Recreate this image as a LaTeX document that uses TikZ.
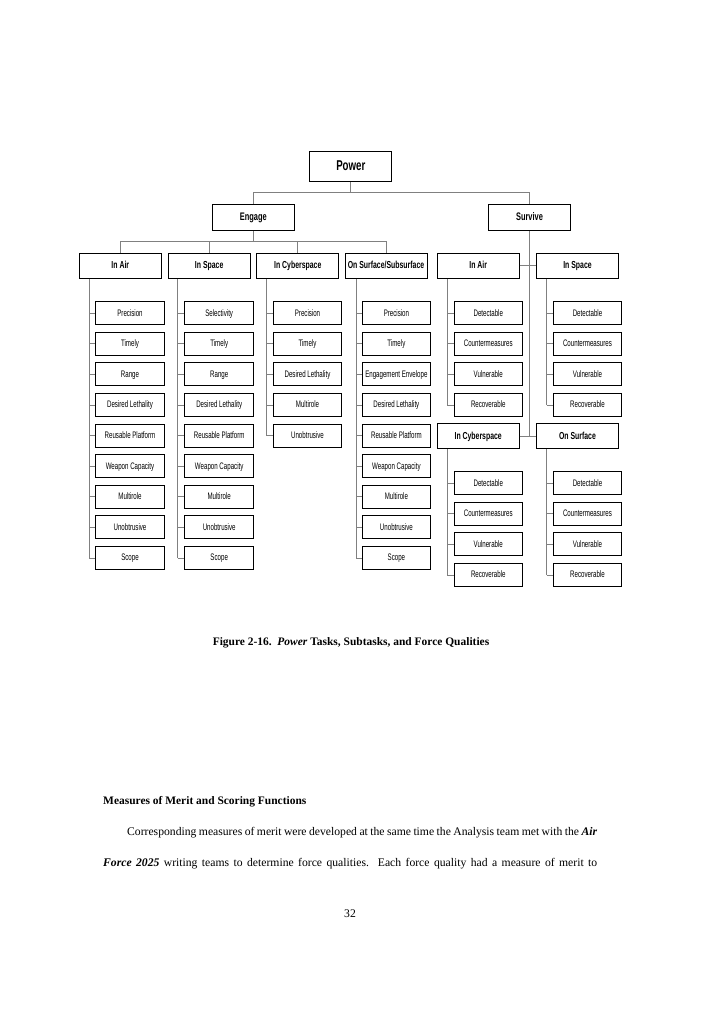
\documentclass[tikz,border=0pt]{standalone}
\usepackage{fontspec}
\setmainfont{Liberation Serif}
\newfontfamily\hdfont[FakeStretch=0.68]{Liberation Sans}
\newfontfamily\lffont[FakeStretch=0.65]{Liberation Sans}
\begin{document}
\begin{tikzpicture}[x=1bp,y=-1bp,
  conn/.style={draw=black!50, line width=1bp},
  boxbase/.style={draw=black, line width=1bp, inner sep=0pt, fill=white},
  topbox/.style={boxbase, minimum width=82bp, minimum height=30.6bp, text height=10.2bp, text depth=1.5bp, font=\hdfont\bfseries\fontsize{14.3}{16}\selectfont},
  taskbox/.style={boxbase, minimum width=82bp, minimum height=26bp, text height=8bp, text depth=1.2bp, font=\hdfont\bfseries\fontsize{11}{13}\selectfont},
  subbox/.style={boxbase, minimum width=82bp, minimum height=25bp, text height=7.3bp, text depth=1.1bp, font=\hdfont\bfseries\fontsize{10.2}{12}\selectfont},
  leafbox/.style={boxbase, minimum width=68.5bp, minimum height=23bp, text height=6.8bp, text depth=1bp, font=\lffont\fontsize{9.5}{11}\selectfont},
  bodytext/.style={inner sep=0pt, font=\fontsize{11.7}{13}\selectfont},
]
\fill[white] (0,0) rectangle (701,1022);
\useasboundingbox (0,0) rectangle (701,1022);

% top levels
\node[topbox] (power) at (350.8,166.4) {Power};
\node[taskbox] (engage) at (253.3,217.3) {Engage};
\node[taskbox] (survive) at (529.5,217.3) {Survive};

\node[subbox] (eair) at (120.3,265.8) {In Air};
\node[subbox] (espace) at (209.2,265.8) {In Space};
\node[subbox] (ecyber) at (297.8,265.8) {In Cyberspace};
\node[subbox] (esurf) at (386,265.8) {On Surface/Subsurface};
\node[subbox] (sair) at (478.2,265.8) {In Air};
\node[subbox] (sspace) at (577.5,265.8) {In Space};
\node[subbox] (scyber) at (478.2,436.2) {In Cyberspace};
\node[subbox] (ssurf) at (577.5,436.2) {On Surface};

% connectors between levels
\coordinate (pj) at (350.8,192.7);
\coordinate (ej) at (253.3,241.7);
\draw[conn] (power.south) -- (pj);
\draw[conn] (engage.north) |- (pj) -| (survive.north);
\draw[conn] (engage.south) -- (ej);
\draw[conn] (eair.north) |- (ej) -| (esurf.north);
\draw[conn] (espace.north) -- (espace.north |- ej);
\draw[conn] (ecyber.north) -- (ecyber.north |- ej);
\draw[conn] (survive.south) -- (survive.south |- scyber.east);
\draw[conn] (sair.east) -- (sspace.west);
\draw[conn] (scyber.east) -- (ssurf.west);

% leaf columns
\coordinate (va) at (89,0);
\coordinate (vb) at (177.7,0);
\coordinate (vc) at (266.7,0);
\coordinate (vd) at (356,0);
\coordinate (ve) at (447,0);
\coordinate (vf) at (546.7,0);

\foreach \t [count=\i] in {Precision,Timely,Range,Desired Lethality,Reusable Platform,Weapon Capacity,Multirole,Unobtrusive,Scope}
  \node[leafbox] (a\i) at (130,{313.2+30.6*(\i-1)}) {\t};
\foreach \t [count=\i] in {Selectivity,Timely,Range,Desired Lethality,Reusable Platform,Weapon Capacity,Multirole,Unobtrusive,Scope}
  \node[leafbox] (b\i) at (219.2,{313.2+30.6*(\i-1)}) {\t};
\foreach \t [count=\i] in {Precision,Timely,Desired Lethality,Multirole,Unobtrusive}
  \node[leafbox] (c\i) at (307.5,{313.2+30.6*(\i-1)}) {\t};
\foreach \t [count=\i] in {Precision,Timely,Engagement Envelope,Desired Lethality,Reusable Platform,Weapon Capacity,Multirole,Unobtrusive,Scope}
  \node[leafbox] (d\i) at (396.4,{313.2+30.6*(\i-1)}) {\t};
\foreach \t [count=\i] in {Detectable,Countermeasures,Vulnerable,Recoverable}{
  \node[leafbox] (e\i) at (488.3,{313.2+30.6*(\i-1)}) {\t};
  \node[leafbox] (f\i) at (587.5,{313.2+30.6*(\i-1)}) {\t};
  \node[leafbox] (g\i) at (488.3,{483.2+30.6*(\i-1)}) {\t};
  \node[leafbox] (h\i) at (587.5,{483.2+30.6*(\i-1)}) {\t};
}

\draw[conn] (eair.south -| va) -- (a9.west -| va);
\foreach \i in {1,...,9} \draw[conn] (a\i.west -| va) -- (a\i.west);
\draw[conn] (espace.south -| vb) -- (b9.west -| vb);
\foreach \i in {1,...,9} \draw[conn] (b\i.west -| vb) -- (b\i.west);
\draw[conn] (ecyber.south -| vc) -- (c5.west -| vc);
\foreach \i in {1,...,5} \draw[conn] (c\i.west -| vc) -- (c\i.west);
\draw[conn] (esurf.south -| vd) -- (d9.west -| vd);
\foreach \i in {1,...,9} \draw[conn] (d\i.west -| vd) -- (d\i.west);
\draw[conn] (sair.south -| ve) -- (e4.west -| ve);
\draw[conn] (sspace.south -| vf) -- (f4.west -| vf);
\draw[conn] (scyber.south -| ve) -- (g4.west -| ve);
\draw[conn] (ssurf.south -| vf) -- (h4.west -| vf);
\foreach \i in {1,...,4}{
  \draw[conn] (e\i.west -| ve) -- (e\i.west);
  \draw[conn] (f\i.west -| vf) -- (f\i.west);
  \draw[conn] (g\i.west -| ve) -- (g\i.west);
  \draw[conn] (h\i.west -| vf) -- (h\i.west);
}

% caption and page text
\node[bodytext, anchor=base, font=\bfseries\fontsize{11.5}{13}\selectfont] (cap) at (351,645)
  {Figure 2-16.\ \ \textit{Power} Tasks, Subtasks, and Force Qualities};
\node[bodytext, anchor=base west, font=\bfseries\fontsize{11.5}{13}\selectfont] (hd) at (103,804)
  {Measures of Merit and Scoring Functions};
\node[bodytext, anchor=base west] (l1) at (127,835)
  {\makebox[470bp][s]{Corresponding measures of merit were developed at the same time the Analysis team met with the \textbf{\textit{Air}}}};
\node[bodytext, anchor=base west] (l2) at (103,866)
  {\makebox[494bp][s]{\textbf{\textit{Force 2025}} writing teams to determine force qualities.\ \ Each force quality had a measure of merit to}};
\node[bodytext, anchor=base] (pg) at (350,917) {32};
\end{tikzpicture}
\end{document}
